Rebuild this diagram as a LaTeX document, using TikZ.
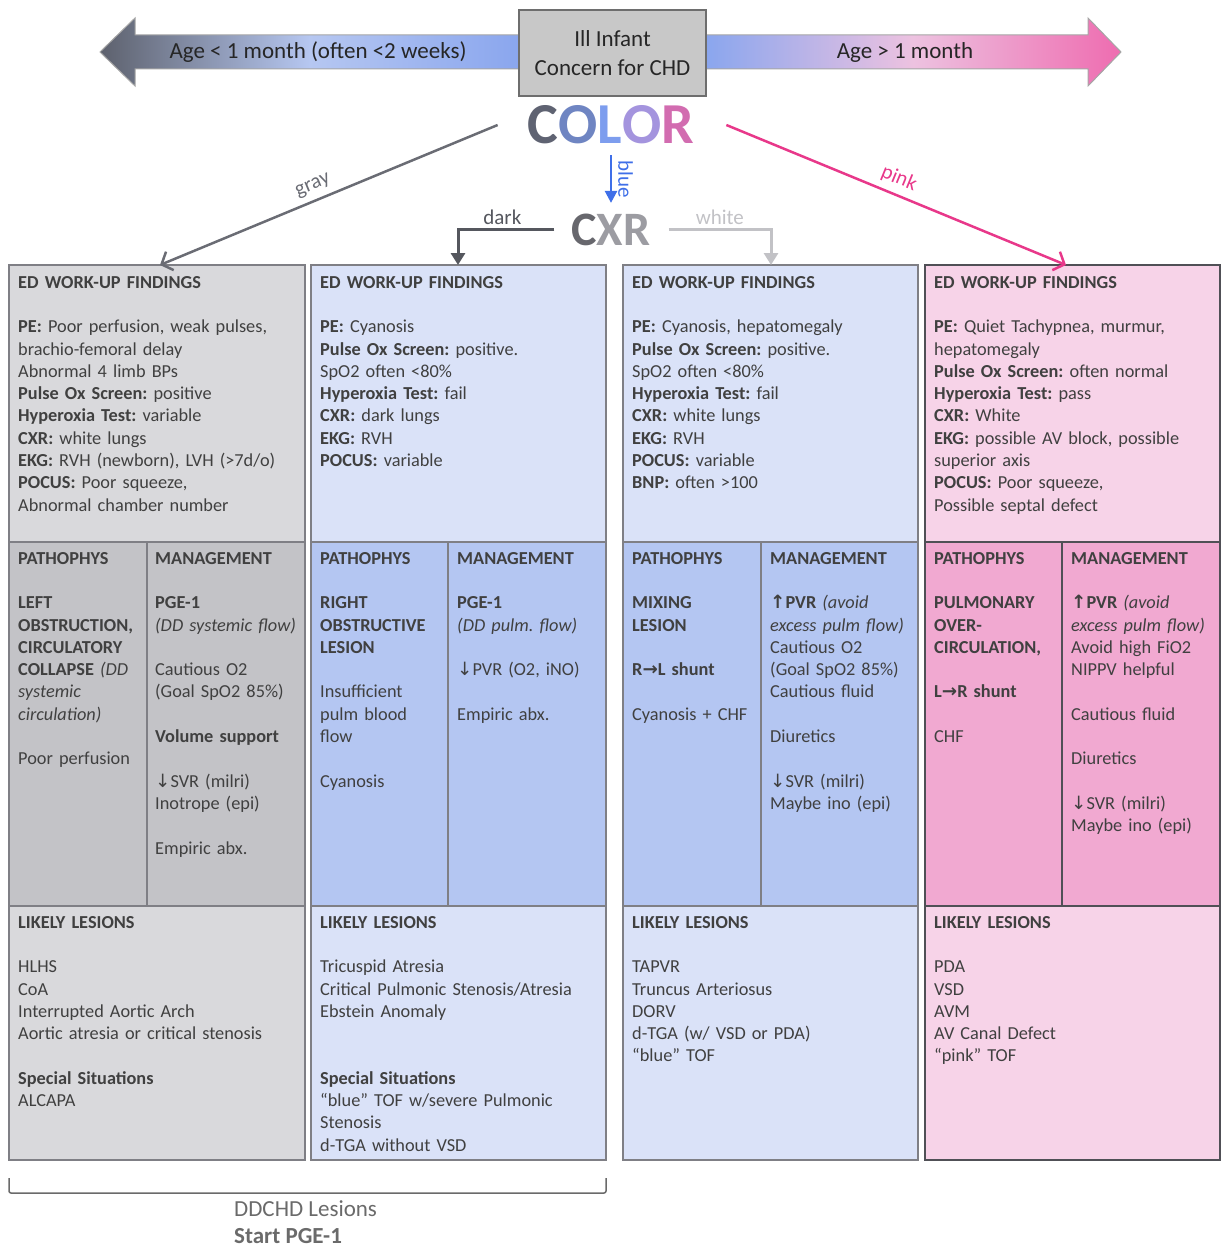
\documentclass[tikz,border=0pt]{standalone}
\usepackage{fontspec}
\setmainfont{Carlito}
\newfontfamily\arrowfont{DejaVu Sans}
\usepackage{tikz}
\usetikzlibrary{positioning, calc, arrows.meta}
\frenchspacing

\definecolor{txtgray}{HTML}{404040}
\definecolor{graylt}{HTML}{D9D9DC}
\definecolor{graymd}{HTML}{C3C3C7}
\definecolor{bluelt}{HTML}{DAE2F8}
\definecolor{bluemd}{HTML}{B4C6F2}
\definecolor{pinklt}{HTML}{F7D3E8}
\definecolor{pinkmd}{HTML}{F1A9D1}
\definecolor{cellline}{HTML}{7F7F85}
\definecolor{pinkline}{HTML}{505056}
\definecolor{arrgray}{HTML}{6A6C74}
\definecolor{arrpink}{HTML}{E8388A}
\definecolor{arrblue}{HTML}{3F6FE8}
\definecolor{arrdark}{HTML}{55575E}
\definecolor{arrwhite}{HTML}{C2C2C6}
\definecolor{ageleft}{HTML}{5D616D}
\definecolor{agemidl}{HTML}{B6C7F1}
\definecolor{ageblue}{HTML}{8AA6EE}
\definecolor{agemidr}{HTML}{EDC2E0}
\definecolor{ageright}{HTML}{EE6CB0}
\definecolor{boxfill}{HTML}{C8C8C8}
\definecolor{boxline}{HTML}{6E6E6E}
\definecolor{ddgray}{HTML}{6A6A6A}

\newcommand{\cellfont}{\fontsize{18.3}{22.3}\selectfont}
\newcommand{\arrdown}{{\arrowfont ↓}}
\newcommand{\arrup}{{\arrowfont ↑}}
\newcommand{\arrright}{{\arrowfont →}}

\begin{document}
\begin{tikzpicture}[x=1pt, y=-1pt,
  cell/.style={draw=cellline, line width=1.5pt, anchor=north west, inner sep=0pt, outer sep=0pt},
  celltext/.style={anchor=north west, inner sep=0pt, align=left, text width=#1,
    font=\cellfont, text=txtgray, execute at begin node=\strut},
  toptext/.style={font=\fontsize{23}{29}\selectfont, text=black!85},
  arrlabel/.style={font=\fontsize{21}{24}\selectfont, inner sep=2pt},
  bigword/.style={font=\fontsize{58}{60}\selectfont\bfseries, inner sep=0pt},
]
\useasboundingbox (0,0) rectangle (1225,1249);

% age arrows and top box
\draw[draw=black!35, line width=1pt, left color=ageleft, right color=ageblue, middle color=agemidl]
  (100,52) -- (135,18) -- (135,35) -- (519,35) -- (519,69) -- (135,69) -- (135,86) -- cycle;
\draw[draw=black!35, line width=1pt, left color=ageblue, right color=ageright, middle color=agemidr]
  (706,35) -- (1088,35) -- (1088,18) -- (1121,52) -- (1088,86) -- (1088,69) -- (706,69) -- cycle;
\node[toptext] (young) at (318,52) {Age < 1 month (often <2 weeks)};
\node[toptext] (older) at (905,52) {Age > 1 month};
\node[toptext, draw=boxline, fill=boxfill, line width=2pt, minimum width=187pt, minimum height=86pt,
  align=center] (infant) at (612.5,53) {Ill Infant\\Concern for CHD};

% COLOR and CXR
\node[bigword] (color) at (611,125) {\color[HTML]{5F6372}C\color[HTML]{6F85C2}O\color[HTML]{7D9DEE}L\color[HTML]{A494DE}O\color[HTML]{D26CB0}R};
\node[bigword, font=\fontsize{48}{50}\selectfont\bfseries] (cxr) at (611,230) {\color[HTML]{67676D}C\color[HTML]{9C9CA2}XR};

% findings
\node[cell, fill=graylt, minimum width=296pt, minimum height=277pt] (find1) at (9,265) {};
\node[cell, fill=bluelt, minimum width=295pt, minimum height=277pt] (find2) at (311,265) {};
\node[cell, fill=bluelt, minimum width=295pt, minimum height=277pt] (find3) at (623,265) {};
\node[cell, fill=pinklt, draw=pinkline, minimum width=295pt, minimum height=277pt] (find4) at (925,265) {};

% pathophys and management
\node[cell, fill=graymd, minimum width=138pt, minimum height=364pt] (path1) at (9,542) {};
\node[cell, fill=graymd, minimum width=158pt, minimum height=364pt] (mgmt1) at (147,542) {};
\node[cell, fill=bluemd, minimum width=137pt, minimum height=364pt] (path2) at (311,542) {};
\node[cell, fill=bluemd, minimum width=158pt, minimum height=364pt] (mgmt2) at (448,542) {};
\node[cell, fill=bluemd, minimum width=138pt, minimum height=364pt] (path3) at (623,542) {};
\node[cell, fill=bluemd, minimum width=157pt, minimum height=364pt] (mgmt3) at (761,542) {};
\node[cell, fill=pinkmd, draw=pinkline, minimum width=137pt, minimum height=364pt] (path4) at (925,542) {};
\node[cell, fill=pinkmd, draw=pinkline, minimum width=158pt, minimum height=364pt] (mgmt4) at (1062,542) {};

% likely lesions
\node[cell, fill=graylt, minimum width=296pt, minimum height=254pt] (les1) at (9,906) {};
\node[cell, fill=bluelt, minimum width=295pt, minimum height=254pt] (les2) at (311,906) {};
\node[cell, fill=bluelt, minimum width=295pt, minimum height=254pt] (les3) at (623,906) {};
\node[cell, fill=pinklt, draw=pinkline, minimum width=295pt, minimum height=254pt] (les4) at (925,906) {};

% column 1 texts
\node[celltext=290pt] at ([shift={(9,7.3)}]find1.north west) {\textbf{ED WORK-UP FINDINGS}\\ ~\\
  \textbf{PE:} Poor perfusion, weak pulses,\\ brachio-femoral delay\\ Abnormal 4 limb BPs\\
  \textbf{Pulse Ox Screen:} positive\\ \textbf{Hyperoxia Test:} variable\\ \textbf{CXR:} white lungs\\
  \textbf{EKG:} RVH (newborn), LVH (>7d/o)\\ \textbf{POCUS:} Poor squeeze,\\ Abnormal chamber number};
\node[celltext=160pt] at ([shift={(9,6.3)}]path1.north west) {\textbf{PATHOPHYS}\\ ~\\
  \textbf{LEFT}\\ \textbf{OBSTRUCTION,}\\ \textbf{CIRCULATORY}\\ \textbf{COLLAPSE} \textit{(DD}\\
  \textit{systemic}\\ \textit{circulation)}\\ ~\\ Poor perfusion};
\node[celltext=160pt] at ([shift={(8,6.3)}]mgmt1.north west) {\textbf{MANAGEMENT}\\ ~\\
  \textbf{PGE-1}\\ \textit{(DD systemic flow)}\\ ~\\ Cautious O2\\ (Goal SpO2 85\%)\\ ~\\
  \textbf{Volume support}\\ ~\\ \arrdown SVR (milri)\\ Inotrope (epi)\\ ~\\ Empiric abx.};
\node[celltext=290pt] at ([shift={(9,6.3)}]les1.north west) {\textbf{LIKELY LESIONS}\\ ~\\
  HLHS\\ CoA\\ Interrupted Aortic Arch\\ Aortic atresia or critical stenosis\\ ~\\
  \textbf{Special Situations}\\ ALCAPA};

% column 2 texts
\node[celltext=290pt] at ([shift={(9,7.3)}]find2.north west) {\textbf{ED WORK-UP FINDINGS}\\ ~\\
  \textbf{PE:} Cyanosis\\ \textbf{Pulse Ox Screen:} positive.\\ SpO2 often <80\%\\
  \textbf{Hyperoxia Test:} fail\\ \textbf{CXR:} dark lungs\\ \textbf{EKG:} RVH\\ \textbf{POCUS:} variable};
\node[celltext=160pt] at ([shift={(9,6.3)}]path2.north west) {\textbf{PATHOPHYS}\\ ~\\
  \textbf{RIGHT}\\ \textbf{OBSTRUCTIVE}\\ \textbf{LESION}\\ ~\\ Insufficient\\ pulm blood\\ flow\\ ~\\ Cyanosis};
\node[celltext=160pt] at ([shift={(9,6.3)}]mgmt2.north west) {\textbf{MANAGEMENT}\\ ~\\
  \textbf{PGE-1}\\ \textit{(DD pulm. flow)}\\ ~\\ \arrdown PVR (O2, iNO)\\ ~\\ Empiric abx.};
\node[celltext=290pt] at ([shift={(9,6.3)}]les2.north west) {\textbf{LIKELY LESIONS}\\ ~\\
  Tricuspid Atresia\\ Critical Pulmonic Stenosis/Atresia\\ Ebstein Anomaly\\ ~\\ ~\\
  \textbf{Special Situations}\\ “blue” TOF w/severe Pulmonic\\ Stenosis\\ d-TGA without VSD};

% column 3 texts
\node[celltext=290pt] at ([shift={(9,7.3)}]find3.north west) {\textbf{ED WORK-UP FINDINGS}\\ ~\\
  \textbf{PE:} Cyanosis, hepatomegaly\\ \textbf{Pulse Ox Screen:} positive.\\ SpO2 often <80\%\\
  \textbf{Hyperoxia Test:} fail\\ \textbf{CXR:} white lungs\\ \textbf{EKG:} RVH\\ \textbf{POCUS:} variable\\
  \textbf{BNP:} often >100};
\node[celltext=160pt] at ([shift={(9,6.3)}]path3.north west) {\textbf{PATHOPHYS}\\ ~\\
  \textbf{MIXING}\\ \textbf{LESION}\\ ~\\ \textbf{R\arrright L shunt}\\ ~\\ Cyanosis + CHF};
\node[celltext=160pt] at ([shift={(9,6.3)}]mgmt3.north west) {\textbf{MANAGEMENT}\\ ~\\
  \textbf{\arrup PVR} \textit{(avoid}\\ \textit{excess pulm flow)}\\ Cautious O2\\ (Goal SpO2 85\%)\\
  Cautious fluid\\ ~\\ Diuretics\\ ~\\ \arrdown SVR (milri)\\ Maybe ino (epi)};
\node[celltext=290pt] at ([shift={(9,6.3)}]les3.north west) {\textbf{LIKELY LESIONS}\\ ~\\
  TAPVR\\ Truncus Arteriosus\\ DORV\\ d-TGA (w/ VSD or PDA)\\ “blue” TOF};

% column 4 texts
\node[celltext=290pt] at ([shift={(9,7.3)}]find4.north west) {\textbf{ED WORK-UP FINDINGS}\\ ~\\
  \textbf{PE:} Quiet Tachypnea, murmur,\\ hepatomegaly\\ \textbf{Pulse Ox Screen:} often normal\\
  \textbf{Hyperoxia Test:} pass\\ \textbf{CXR:} White\\ \textbf{EKG:} possible AV block, possible\\
  superior axis\\ \textbf{POCUS:} Poor squeeze,\\ Possible septal defect};
\node[celltext=160pt] at ([shift={(9,6.3)}]path4.north west) {\textbf{PATHOPHYS}\\ ~\\
  \textbf{PULMONARY}\\ \textbf{OVER-}\\ \textbf{CIRCULATION,}\\ ~\\ \textbf{L\arrright R shunt}\\ ~\\ CHF};
\node[celltext=160pt] at ([shift={(9,6.3)}]mgmt4.north west) {\textbf{MANAGEMENT}\\ ~\\
  \textbf{\arrup PVR} \textit{(avoid}\\ \textit{excess pulm flow)}\\ Avoid high FiO2\\ NIPPV helpful\\ ~\\
  Cautious fluid\\ ~\\ Diuretics\\ ~\\ \arrdown SVR (milri)\\ Maybe ino (epi)};
\node[celltext=290pt] at ([shift={(9,6.3)}]les4.north west) {\textbf{LIKELY LESIONS}\\ ~\\
  PDA\\ VSD\\ AVM\\ AV Canal Defect\\ “pink” TOF};

% colour arrows
\draw[arrgray, line width=2.5pt, -{Straight Barb[length=9pt, width=20pt]}]
  ([xshift=-30pt]color.west) -- node[arrlabel, sloped, above=4pt, pos=.53] {gray} ([xshift=151pt]find1.north west);
\draw[arrpink, line width=2.5pt, -{Straight Barb[length=9pt, width=20pt]}]
  ([xshift=32pt]color.east) -- node[arrlabel, sloped, above=4pt, pos=.49] {pink} ([xshift=141pt]find4.north west);
\draw[arrblue, line width=2.5pt, -{Triangle[length=12pt, width=12pt]}]
  ([yshift=-11pt]color.south) -- node[arrlabel, anchor=south, rotate=-90, midway, yshift=4pt] {blue} ([yshift=11pt]cxr.north);
\draw[arrdark, line width=3pt, -{Triangle[length=12pt, width=14pt]}]
  ([xshift=-17pt]cxr.west) -| node[arrlabel, above=2pt, pos=.27] {dark} ([xshift=147pt]find2.north west);
\draw[arrwhite, line width=3pt, -{Triangle[length=12pt, width=14pt]}]
  ([xshift=18pt]cxr.east) -| node[arrlabel, above=2pt, pos=.25] {white} ([xshift=148pt]find3.north west);

% DDCHD bracket
\draw[ddgray, line width=1.5pt, rounded corners=2pt]
  ([yshift=-18pt]les1.south west) -- ([yshift=-33pt]les1.south west) -- ([yshift=-33pt]les2.south east) -- ([yshift=-18pt]les2.south east);
\node[anchor=north west, align=left, inner sep=0pt, font=\fontsize{23}{27}\selectfont, text=ddgray,
  execute at begin node=\strut] (ddchd) at (234,1200.5) {DDCHD Lesions\\\textbf{Start PGE-1}};
\end{tikzpicture}
\end{document}
